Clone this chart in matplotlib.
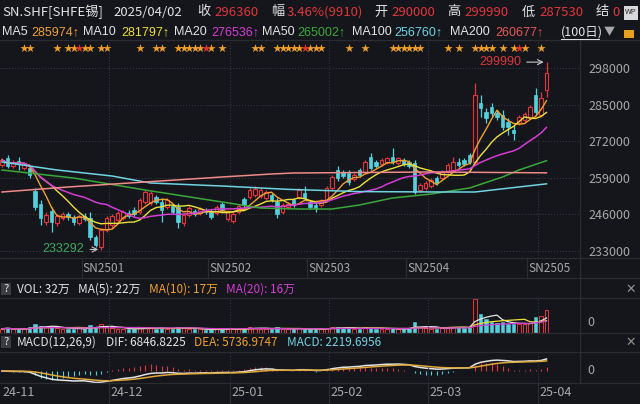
import numpy as np
import pandas as pd
import matplotlib
matplotlib.use('Agg')
import matplotlib.pyplot as plt
from matplotlib.lines import Line2D
from matplotlib.patches import Rectangle

plt.rcParams['font.family'] = ['Noto Sans CJK SC', 'DejaVu Sans']

# ---- data (SN tin, last 100 trading days) ----
opens = [263470, 265960, 263110, 264890, 262400, 262400, 254210, 249580, 243180, 247090,
         242820, 244600, 246020, 244960, 242820, 245310, 244600, 237840, 234280, 240330,
         242110, 243890, 244600, 246380, 247450, 246740, 250300, 249940, 252080, 250300,
         248520, 248870, 248520, 242820, 245670, 247090, 246380, 247450, 247090, 246380,
         249580, 244240, 243530, 246740, 251360, 252080, 252790, 252430, 251720, 252790,
         250300, 246740, 248520, 251010, 252080, 253500, 250300, 249230, 249230, 251010,
         255280, 261690, 260980, 260620, 258480, 261690, 260980, 266320, 264540, 263820,
         264540, 266320, 264180, 265250, 264540, 264180, 254570, 255280, 255990, 258840,
         258840, 260980, 261690, 264540, 265250, 267030, 264540, 285540, 282340, 284120,
         281980, 281270, 278780, 275930, 278420, 279490, 280560, 288390, 281270, 290000]
closes = [265250, 263110, 264180, 263820, 263820, 259910, 248520, 244600, 245670, 243180,
          245310, 246020, 244960, 243180, 245310, 244240, 237840, 234990, 240330, 244600,
          245310, 246380, 246740, 245310, 246020, 251010, 253860, 253500, 250300, 247450,
          251010, 246740, 243180, 245670, 248160, 246020, 247800, 246740, 244960, 248520,
          247450, 246740, 246020, 248870, 249230, 254570, 254920, 254570, 253860, 251010,
          246020, 249230, 249580, 249230, 254570, 251720, 248520, 248160, 250650, 255280,
          259200, 258840, 259550, 257420, 259910, 259910, 264540, 262400, 263110, 265250,
          265960, 264540, 265960, 263820, 263110, 253860, 256350, 257060, 258130, 257060,
          260980, 263470, 264540, 263470, 263820, 264540, 288390, 283760, 280200, 281980,
          280560, 277000, 277000, 274860, 280560, 281620, 284120, 282340, 287320, 296360]
highs = [265960, 267030, 265250, 266320, 264540, 263110, 255280, 251010, 246740, 248520,
         246020, 246740, 246740, 245670, 246020, 246380, 246740, 238550, 241040, 245310,
         246020, 247090, 247450, 247450, 248520, 251720, 254570, 254210, 252790, 251720,
         251720, 249580, 249940, 246380, 248870, 247800, 248520, 248160, 247800, 249230,
         250300, 247450, 246740, 249580, 252080, 255280, 255990, 255280, 254570, 253500,
         251720, 249940, 250300, 251720, 255280, 255990, 251010, 250650, 251360, 255990,
         259910, 263110, 261690, 261690, 260620, 262400, 265250, 267740, 265250, 265960,
         266320, 269520, 266320, 265960, 265250, 265250, 257060, 257770, 258840, 259550,
         261690, 264180, 266320, 265960, 265960, 267740, 292660, 288390, 283760, 285540,
         283050, 283050, 280200, 277710, 281270, 282340, 284830, 290880, 289460, 299990]
lows = [262760, 262400, 262400, 261690, 261690, 258840, 247450, 242110, 242110, 239620,
        241750, 243890, 243890, 242110, 242110, 243530, 236770, 234280, 233292, 239620,
        241040, 243180, 243890, 244600, 245310, 246020, 249580, 249230, 249580, 243180,
        247800, 246020, 241040, 241750, 244960, 245310, 245670, 246020, 244240, 245670,
        246740, 243530, 242820, 246020, 248520, 251360, 252080, 251720, 251010, 250300,
        244600, 246020, 247800, 248520, 251360, 251010, 247800, 246740, 248520, 250300,
        254570, 257770, 258840, 256350, 257770, 259200, 260620, 261690, 262400, 263110,
        263820, 263820, 263470, 263110, 262400, 253140, 253860, 254570, 255280, 256350,
        258130, 260620, 260980, 262760, 263110, 263820, 263820, 280560, 278420, 280910,
        279490, 275930, 274150, 272370, 277710, 278780, 280200, 281270, 280560, 287530]
# volume in 10k lots (万)
vols = [6, 7, 5, 6, 5, 8, 12, 10, 8, 9,
        7, 6, 5, 6, 7, 5, 11, 9, 12, 8,
        7, 6, 6, 5, 5, 8, 7, 7, 6, 7,
        6, 6, 9, 7, 6, 5, 5, 4, 5, 6,
        5, 6, 5, 6, 7, 8, 7, 6, 6, 5,
        8, 6, 5, 5, 7, 6, 6, 5, 5, 7,
        9, 8, 7, 7, 6, 6, 8, 7, 6, 6,
        5, 7, 5, 6, 7, 15, 9, 7, 6, 6,
        7, 8, 9, 8, 7, 8, 48, 27, 20, 16,
        14, 16, 13, 13, 12, 13, 14, 22, 24, 32]

# long moving averages (no history before the window)
ma50_idx = [0, 13, 26, 40, 47, 54, 60, 65, 71, 78, 85, 91, 94, 99]
ma50_val = [261690, 258840, 254570, 250300, 248160, 247800, 247800, 249230, 251720,
            253140, 255280, 259200, 261690, 265002]
ma100_idx = [0, 10, 20, 27, 40, 52, 65, 80, 86, 92, 99]
ma100_val = [264540, 261690, 259550, 257060, 255990, 254800, 254000, 253860, 253860,
             255200, 256760]
ma200_idx = [0, 12, 26, 40, 49, 53, 78, 99]
ma200_val = [253860, 255640, 257420, 259200, 260270, 260620, 260980, 260677]

star_idx = [4, 5, 10, 12, 13, 15, 16, 18, 19, 25, 28, 29, 32, 33, 34, 35, 36, 38, 40,
            46, 47, 50, 51, 52, 53, 54, 56, 57, 58, 63, 66, 71, 72, 73, 74, 75, 76,
            81, 83, 86, 87, 88, 89, 91, 93, 95, 98]
star_red_idx = [14, 37, 55, 94]

price_ticks = [233000, 246000, 259000, 272000, 285000, 298000]
month_pos = [19.5, 41.5, 59.5, 77.5, 97.5]
month_labels = ['24-12', '25-01', '25-02', '25-03', '25-04']
contract_pos = [14.5, 37.5, 55.5, 73.5, 95.5]
contract_labels = ['SN2501', 'SN2502', 'SN2503', 'SN2504', 'SN2505']

# ---- style ----
BG = '#15161b'
GRID = '#34373f'
SEP = '#2b2d33'
RED = '#e0363c'
CYAN = '#52d0dc'
GREY = '#a8a8a8'
WHITE = '#e4e4e4'
C_MA5, C_MA10, C_MA20 = '#f0a030', '#ece03c', '#d43cd4'
C_MA50, C_MA100, C_MA200 = '#3aa83a', '#6fd4e4', '#f08a88'
NUMFONT = ['Liberation Sans', 'Noto Sans CJK SC', 'DejaVu Sans']

W, H = 640, 404


def rect(x0, y0, x1, y1):
    return [x0 / W, 1 - y1 / H, (x1 - x0) / W, (y1 - y0) / H]


def fx(px):
    return px / W


def fy(py):
    return 1 - py / H


n = len(closes)
idx = np.arange(n)
o = np.array(opens)
c = np.array(closes)
hi = np.array(highs)
lo = np.array(lows)
up = c >= o
XL = ((0 - 2) / 5.5, (580 - 2) / 5.5)

fig = plt.figure(figsize=(6.4, 4.04), dpi=100, facecolor=BG)

# ---- price panel ----
ax = fig.add_axes(rect(0, 40, 580, 258))
ax.set_facecolor(BG)
ax.set_xlim(*XL)
ax.set_ylim(230360, 307970)
for s in ax.spines.values():
    s.set_visible(False)
ax.set_yticks(price_ticks)
ax.set_yticklabels([str(t) for t in price_ticks])
ax.yaxis.tick_right()
ax.tick_params(axis='y', length=0, pad=6, labelcolor=GREY, labelsize=9)
ax.set_xticks([])
ax.grid(axis='y', ls=':', color=GRID, lw=0.8)
for m in month_pos:
    ax.axvline(m, ls=':', color=GRID, lw=0.8)

cols = np.where(up, RED, CYAN)
ax.vlines(idx, lo, hi, colors=cols, lw=0.9, zorder=2)
body = np.maximum(np.abs(c - o), 300)
bottom = np.minimum(o, c)
ax.bar(idx[up], body[up], bottom=bottom[up], width=0.7, facecolor=BG,
       edgecolor=RED, lw=0.8, zorder=3)
ax.bar(idx[~up], body[~up], bottom=bottom[~up], width=0.7, facecolor=CYAN,
       edgecolor=CYAN, lw=0.5, zorder=3)

cs = pd.Series(closes)
ax.plot(idx, cs.rolling(5, min_periods=1).mean(), color=C_MA5, lw=1, zorder=4)
ax.plot(idx, cs.rolling(10, min_periods=1).mean(), color=C_MA10, lw=1, zorder=4)
ax.plot(idx, cs.rolling(20, min_periods=1).mean(), color=C_MA20, lw=1.1, zorder=4)
ax.plot(ma50_idx, ma50_val, color=C_MA50, lw=1.1, zorder=4)
ax.plot(ma100_idx, ma100_val, color=C_MA100, lw=1.1, zorder=4)
ax.plot(ma200_idx, ma200_val, color=C_MA200, lw=1.1, zorder=4)

ax.scatter(star_idx, [305000] * len(star_idx), marker='*', s=40, color='#f0a028', lw=0)
ax.scatter(star_red_idx, [305000] * len(star_red_idx), marker='*', s=40, color='#e03030', lw=0)

ax.annotate('299990', xy=(99, 300100), xytext=(94.4, 300100), ha='right', va='center',
            color='#d8383c', fontsize=9, family=NUMFONT,
            arrowprops=dict(arrowstyle='->', color='#c8c8c8', lw=0.8))
ax.annotate('233292', xy=(18, 233400), xytext=(15.0, 233400), ha='right', va='center',
            color='#3ca860', fontsize=9, family=NUMFONT,
            arrowprops=dict(arrowstyle='->', color='#c8c8c8', lw=0.8))

# ---- volume panel ----
axv = fig.add_axes(rect(0, 298, 580, 333))
axv.set_facecolor(BG)
axv.set_xlim(*XL)
axv.set_ylim(0, 49)
axv.axis('off')
v = np.array(vols)
axv.bar(idx[up], v[up], width=0.6, facecolor=BG, edgecolor=RED, lw=0.7)
axv.bar(idx[~up], v[~up], width=0.6, facecolor=CYAN, edgecolor=CYAN, lw=0.4)
vs = pd.Series(vols)
axv.plot(idx, vs.rolling(5, min_periods=1).mean(), color=WHITE, lw=0.9)
axv.plot(idx, vs.rolling(10, min_periods=1).mean(), color=C_MA10, lw=0.9)
axv.plot(idx, vs.rolling(20, min_periods=1).mean(), color=C_MA20, lw=0.9)
for m in month_pos:
    axv.axvline(m, ls=':', color=GRID, lw=0.8)

# ---- MACD panel ----
axm = fig.add_axes(rect(0, 352, 580, 383))
axm.set_facecolor(BG)
axm.set_xlim(*XL)
axm.axis('off')
dif = cs.ewm(span=12, adjust=False).mean() - cs.ewm(span=26, adjust=False).mean()
dea = dif.ewm(span=9, adjust=False).mean()
macd = 2 * (dif - dea)
sc = max(dif.max() / 17, -dif.min() / 12, 1) * 1.05
axm.set_ylim(-12 * sc, 19 * sc)
axm.vlines(idx, 0, macd, colors=np.where(macd >= 0, RED, CYAN), lw=0.8)
axm.plot(idx, dif, color=WHITE, lw=1.1)
axm.plot(idx, dea, color='#e0a838', lw=1.1)
for m in month_pos:
    axm.axvline(m, ls=':', color=GRID, lw=0.8)

# ---- separators / frame ----
for yy in [40, 258, 278, 298, 333, 352, 383]:
    fig.add_artist(Line2D([0, 1], [fy(yy), fy(yy)], color=SEP, lw=0.9))
fig.add_artist(Line2D([fx(580), fx(580)], [fy(40), fy(383)], color=SEP, lw=0.9))


def px_of(i):
    return 2 + 5.5 * i


for p, lab in zip(contract_pos, contract_labels):
    xx = px_of(p)
    fig.add_artist(Line2D([fx(xx), fx(xx)], [fy(258), fy(278)], color=SEP, lw=0.9))
    fig.text(fx(xx + 1), fy(268), lab, color=GREY, fontsize=8.5, va='center')

fig.text(fx(2), fy(393), '24-11', color=GREY, fontsize=9, va='center')
for p, lab in zip(month_pos, month_labels):
    xx = px_of(p)
    fig.add_artist(Line2D([fx(xx), fx(xx)], [fy(383), fy(404)], color=SEP, lw=0.9))
    fig.text(fx(xx + 1), fy(393), lab, color=GREY, fontsize=9, va='center')

fig.text(fx(587), fy(322), '0', color=GREY, fontsize=9, va='center')
fig.text(fx(587), fy(370), '0', color=GREY, fontsize=9, va='center')


# ---- header rows ----
def t(x, y, s, col, fs=9.5, fam=None):
    kw = {} if fam is None else {'family': fam}
    fig.text(fx(x), fy(y), s, color=col, fontsize=fs, va='center', **kw)


t(2, 12, 'SN.SHF[SHFE锡]', WHITE)
t(113, 12, '2025/04/02', WHITE)
t(197, 12, '收', WHITE)
t(214, 12, '296360', RED)
t(271, 12, '幅', WHITE)
t(287, 12, '3.46%(9910)', RED)
t(374, 12, '开', WHITE)
t(391, 12, '290000', RED)
t(447, 12, '高', WHITE)
t(464, 12, '299990', RED)
t(522, 12, '低', WHITE)
t(539, 12, '287530', RED)
t(596, 12, '结', WHITE)
t(612, 12, '0', RED)
fig.add_artist(Rectangle((fx(624), fy(20)), 14 / W, 14 / H, facecolor='#d8d8d8',
                         edgecolor='none', transform=fig.transFigure))
fig.text(fx(631), fy(12), 'WP', color='#303030', fontsize=5.5, ha='center', va='center')

RS = 9
t(2, 32, 'MA5', WHITE, RS, NUMFONT)
t(31, 32, '285974↑', C_MA5, RS, NUMFONT)
t(83, 32, 'MA10', WHITE, RS, NUMFONT)
t(121, 32, '281797↑', C_MA10, RS, NUMFONT)
t(174, 32, 'MA20', WHITE, RS, NUMFONT)
t(211, 32, '276536↑', C_MA20, RS, NUMFONT)
t(262, 32, 'MA50', WHITE, RS, NUMFONT)
t(297, 32, '265002↑', C_MA50, RS, NUMFONT)
t(352, 32, 'MA100', WHITE, RS, NUMFONT)
t(394, 32, '256760↑', C_MA100, RS, NUMFONT)
t(450, 32, 'MA200', WHITE, RS, NUMFONT)
t(495, 32, '260677↑', '#e85858', RS, NUMFONT)
t(561, 32, '(100日)', WHITE, RS)
fig.add_artist(Line2D([fx(561), fx(599)], [fy(39), fy(39)], color=WHITE, lw=0.7))
t(604, 32, '▼', GREY, 8)
fig.add_artist(Rectangle((fx(624), fy(38)), 10 / W, 8 / H, facecolor='#e8a020',
                         edgecolor='none', transform=fig.transFigure))


def qbox(y):
    fig.add_artist(Rectangle((fx(1), fy(y + 6)), 10 / W, 12 / H, facecolor='#3a3c42',
                             edgecolor='none', transform=fig.transFigure))
    fig.text(fx(6), fy(y), '?', color=WHITE, fontsize=8, ha='center', va='center')
    fig.text(fx(631), fy(y), '✕', color='#909090', fontsize=9, ha='center', va='center',
             family='DejaVu Sans')


qbox(289)
t(17, 289, 'VOL: 32万', WHITE, 8.5)
t(78, 289, 'MA(5): 22万', WHITE, 8.5)
t(149, 289, 'MA(10): 17万', C_MA5, 8.5)
t(226, 289, 'MA(20): 16万', C_MA20, 8.5)

qbox(342)
t(17, 342, 'MACD(12,26,9)', WHITE, 8.5)
t(106, 342, 'DIF: 6846.8225', WHITE, 8.5)
t(194, 342, 'DEA: 5736.9747', C_MA5, 8.5)
t(287, 342, 'MACD: 2219.6956', C_MA100, 8.5)

fig.savefig('out.png', dpi=100, facecolor=BG)
